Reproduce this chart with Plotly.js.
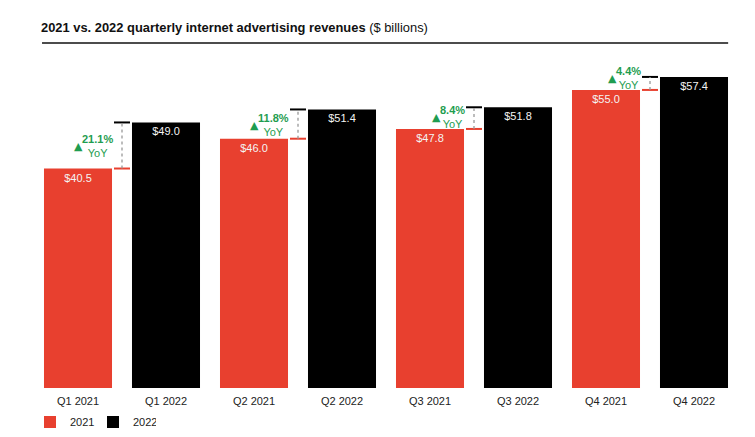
<!DOCTYPE html>
<html>
<head>
<meta charset="utf-8">
<script src="https://cdn.plot.ly/plotly-3.0.1.min.js"></script>
<style>html,body{margin:0;padding:0;background:#fff;}#chart{width:755px;height:437px;}</style>
</head>
<body>
<div id="chart"></div>
<script>
// ---- data ----
const quarters = ['Q1', 'Q2', 'Q3', 'Q4'];
const rev2021 = [40.5, 46.0, 47.8, 55.0];
const rev2022 = [49.0, 51.4, 51.8, 57.4];
const yoyLabels = ['21.1%', '11.8%', '8.4%', '4.4%'];
const seriesNames = ['2021', '2022'];

// ---- styling ----
const FONT = 'Liberation Sans, Arial, Helvetica, sans-serif';
const RED = '#e8402f';
const BLACK = '#000000';
const GREEN = '#1f9d50';
const Y_MAX = 62;
const PLOT_H = 437 - 52 - 49;
const pxToUnits = Y_MAX / PLOT_H;

const cats2021 = quarters.map(q => q + ' ' + seriesNames[0]);
const cats2022 = quarters.map(q => q + ' ' + seriesNames[1]);
const catOrder = [];
quarters.forEach((q, i) => { catOrder.push(cats2021[i]); catOrder.push(cats2022[i]); });

function barTrace(x, y, name, color) {
  return {
    type: 'bar', x: x, y: y, name: name,
    marker: {color: color, line: {width: 0}},
    texttemplate: '$%{y:.1f}', textposition: 'inside', insidetextanchor: 'end',
    textangle: 0, constraintext: 'none',
    textfont: {family: FONT, size: 11, color: '#f4f4f4'},
    hoverinfo: 'skip'
  };
}
const traces = [
  barTrace(cats2021, rev2021, seriesNames[0], RED),
  barTrace(cats2022, rev2022, seriesNames[1], BLACK)
];

// text width measurement for placing the triangles
const cv = document.createElement('canvas').getContext('2d');
cv.font = 'bold 11px "Liberation Sans", Arial, sans-serif';

const shapes = [
  {type: 'line', xref: 'paper', yref: 'paper', x0: 0.0114, x1: 0.986, y0: 1.027, y1: 1.027,
   line: {color: '#111', width: 1.5}}
];
const annotations = [];
quarters.forEach((q, i) => {
  const mid = 2 * i + 0.5;
  const r = rev2021[i], b = rev2022[i];
  shapes.push({type: 'line', xref: 'x', yref: 'y', x0: mid - 0.091, x1: mid + 0.091, y0: r, y1: r,
    line: {color: RED, width: 2}});
  shapes.push({type: 'line', xref: 'x', yref: 'y', x0: mid - 0.091, x1: mid + 0.091, y0: b, y1: b,
    line: {color: BLACK, width: 2}});
  shapes.push({type: 'line', xref: 'x', yref: 'y', x0: mid, x1: mid, y0: r, y1: b,
    line: {color: '#999', width: 1.3, dash: 'dot'}});
  const yMid = Math.max((r + b) / 2, r + 12.5 * pxToUnits);
  annotations.push({
    x: mid, y: yMid, xref: 'x', yref: 'y', xanchor: 'right', yanchor: 'middle',
    xshift: -7, yshift: -1, showarrow: false, align: 'center',
    text: '<b>' + yoyLabels[i] + '</b><br>YoY',
    font: {family: FONT, size: 11, color: GREEN}
  });
  const w = cv.measureText(yoyLabels[i]).width;
  annotations.push({
    x: mid, y: yMid, xref: 'x', yref: 'y', xanchor: 'right', yanchor: 'middle',
    xshift: -7 - w + 1, yshift: -1, showarrow: false,
    text: '▲', font: {family: 'DejaVu Sans', size: 11, color: GREEN}
  });
});

const layout = {
  width: 755, height: 437,
  margin: {l: 34, r: 17, t: 52, b: 49},
  paper_bgcolor: '#ffffff', plot_bgcolor: '#ffffff',
  font: {family: FONT, size: 11, color: '#222'},
  title: {
    text: '<b>2021 vs. 2022 quarterly internet advertising revenues</b> ($ billions)',
    x: 41 / 755, xref: 'container', xanchor: 'left',
    y: 1 - 27 / 437, yref: 'container', yanchor: 'middle',
    font: {family: FONT, size: 12.9, color: '#111'}
  },
  barmode: 'overlay', bargap: 0.227,
  xaxis: {
    type: 'category', categoryorder: 'array', categoryarray: catOrder,
    showline: false, showgrid: false, zeroline: false, ticks: '',
    ticklabelstandoff: 5,
    tickfont: {family: FONT, size: 11, color: '#222'}, fixedrange: true
  },
  yaxis: {range: [0, Y_MAX], visible: false, showgrid: false, zeroline: false, fixedrange: true},
  showlegend: true,
  legend: {
    orientation: 'h', xref: 'container', yref: 'container',
    x: 30 / 755, xanchor: 'left', y: 1 - 422 / 437, yanchor: 'middle',
    font: {family: FONT, size: 11, color: '#222'},
    itemwidth: 30, entrywidth: 18, traceorder: 'normal'
  },
  shapes: shapes,
  annotations: annotations
};

Plotly.newPlot('chart', traces, layout, {displayModeBar: false, staticPlot: true});
</script>
</body>
</html>
